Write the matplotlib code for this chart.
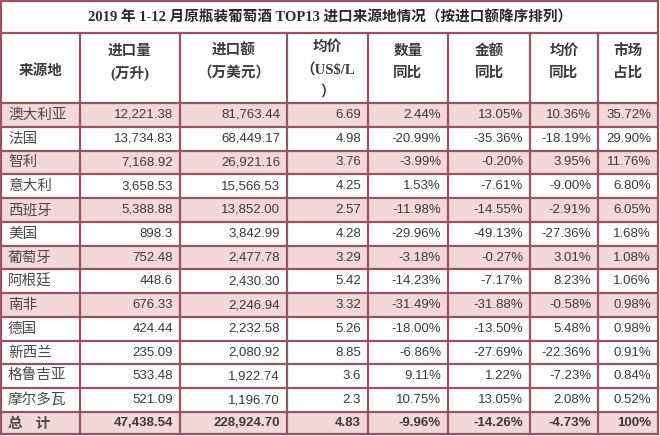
import matplotlib
matplotlib.use('Agg')
import matplotlib.pyplot as plt
from matplotlib.patches import Rectangle

plt.rcParams['font.family'] = ['Noto Sans CJK SC', 'DejaVu Sans']

title = '2019 年 1-12 月原瓶装葡萄酒 TOP13 进口来源地情况（按进口额降序排列）'
headers = [['来源地'], ['进口量', '(万升)'], ['进口额', '（万美元）'],
           ['均价', '（US$/L', '）'], ['数量', '同比'], ['金额', '同比'],
           ['均价', '同比'], ['市场', '占比']]

countries = ['澳大利亚', '法国', '智利', '意大利', '西班牙', '美国', '葡萄牙',
             '阿根廷', '南非', '德国', '新西兰', '格鲁吉亚', '摩尔多瓦']
volume = ['12,221.38', '13,734.83', '7,168.92', '3,658.53', '5,388.88', '898.3',
          '752.48', '448.6', '676.33', '424.44', '235.09', '533.48', '521.09']
value = ['81,763.44', '68,449.17', '26,921.16', '15,566.53', '13,852.00', '3,842.99',
         '2,477.78', '2,430.30', '2,246.94', '2,232.58', '2,080.92', '1,922.74', '1,196.70']
price = ['6.69', '4.98', '3.76', '4.25', '2.57', '4.28', '3.29', '5.42', '3.32',
         '5.26', '8.85', '3.6', '2.3']
vol_yoy = ['2.44%', '-20.99%', '-3.99%', '1.53%', '-11.98%', '-29.96%', '-3.18%',
           '-14.23%', '-31.49%', '-18.00%', '-6.86%', '9.11%', '10.75%']
val_yoy = ['13.05%', '-35.36%', '-0.20%', '-7.61%', '-14.55%', '-49.13%', '-0.27%',
           '-7.17%', '-31.88%', '-13.50%', '-27.69%', '1.22%', '13.05%']
price_yoy = ['10.36%', '-18.19%', '3.95%', '-9.00%', '-2.91%', '-27.36%', '3.01%',
             '8.23%', '-0.58%', '5.48%', '-22.36%', '-7.23%', '2.08%']
share = ['35.72%', '29.90%', '11.76%', '6.80%', '6.05%', '1.68%', '1.08%', '1.06%',
         '0.98%', '0.98%', '0.91%', '0.84%', '0.52%']
total = ['总    计', '47,438.54', '228,924.70', '4.83', '-9.96%', '-14.26%', '-4.73%', '100%']

# layout (pixels)
W, H = 660, 436
xs = [1, 80, 180, 287, 368, 448, 530, 598, 658]
y_title = (1, 33)
y_head = (33, 103)
rh = 23.77
y_rows = [103 + i * rh for i in range(14)] + [434]
pink = '#f3d8db'
edge = '#95545e'
txt = '#3a3a3a'
numfont = ['Liberation Sans', 'DejaVu Sans']

fig = plt.figure(figsize=(6.6, 4.36), dpi=100)
ax = fig.add_axes([0, 0, 1, 1])
ax.set_xlim(0, W)
ax.set_ylim(H, 0)
ax.axis('off')

rows = [[countries[i], volume[i], value[i], price[i], vol_yoy[i], val_yoy[i],
         price_yoy[i], share[i]] for i in range(len(countries))]
rows.append(total)

# row backgrounds
for i in range(len(rows)):
    if (i % 2 == 0 and i < 9) or i == len(rows) - 1:
        ax.add_patch(Rectangle((xs[0], y_rows[i]), xs[-1] - xs[0],
                               y_rows[i + 1] - y_rows[i], color=pink, lw=0))

# grid lines
for y in [y_title[0], y_title[1], y_head[1]] + y_rows[1:]:
    ax.plot([xs[0], xs[-1]], [y, y], color=edge, lw=1.6, solid_capstyle='projecting')
ax.plot([xs[0], xs[0]], [0, 434], color=edge, lw=1.6)
ax.plot([xs[-1], xs[-1]], [0, 434], color=edge, lw=1.6)
for x in xs[1:-1]:
    ax.plot([x, x], [y_head[0], 434], color=edge, lw=1.6)

# title
ax.text(W / 2, 17, title, ha='center', va='center', fontsize=10.5, fontweight='bold',
        color='#2a2a2a', family=['Liberation Serif', 'Noto Sans CJK SC'])

# headers
for j, lines in enumerate(headers):
    cx = (xs[j] + xs[j + 1]) / 2
    n = len(lines)
    if n == 1:
        ys = [71]
    elif n == 2:
        ys = [51, 73]
    else:
        ys = [47, 70, 92]
    for k, s in enumerate(lines):
        ax.text(cx, ys[k], s, ha='center', va='center', fontsize=10.5, fontweight='bold',
                color='#3c3c3c', family=['Liberation Serif', 'Noto Sans CJK SC'])

# body
for i, r in enumerate(rows):
    cy = (y_rows[i] + y_rows[i + 1]) / 2
    bold = 'bold' if i == len(rows) - 1 else 'normal'
    ax.text(xs[0] + 7, cy, r[0], ha='left', va='center', fontsize=10.5,
            color='#4a4a4a', fontweight=bold)
    for j in range(1, 8):
        ax.text(xs[j + 1] - 7, cy, r[j], ha='right', va='center', fontsize=9.5,
                color=txt, family=numfont, fontweight=bold)

fig.savefig('out.png', dpi=100)
